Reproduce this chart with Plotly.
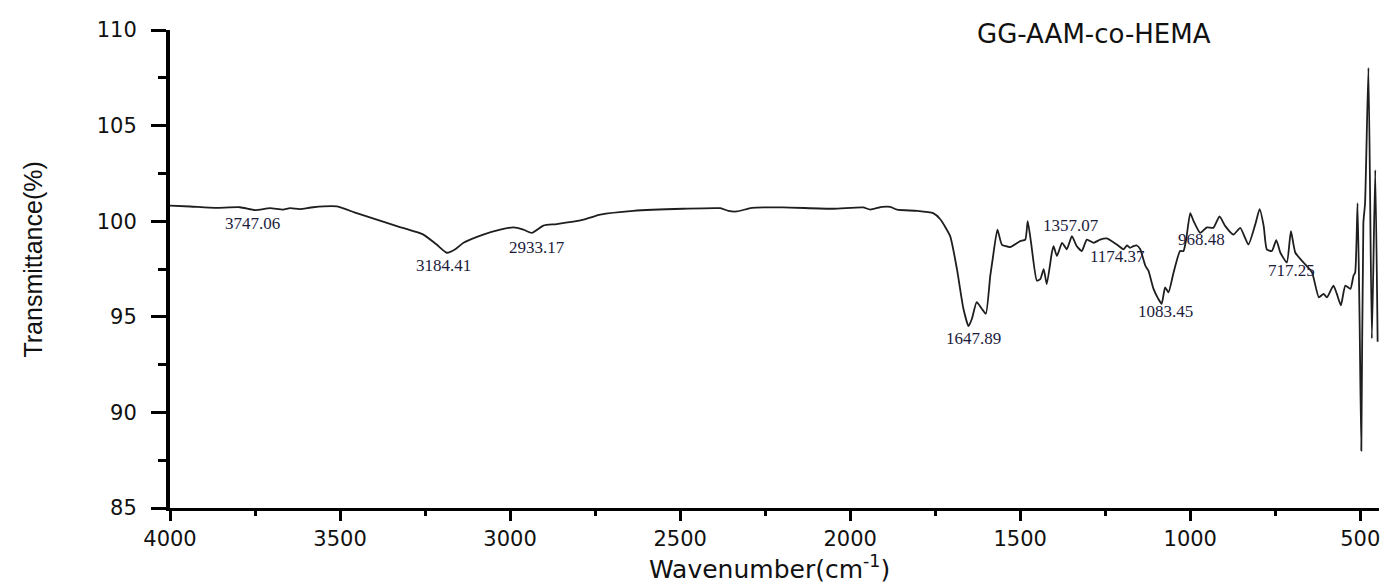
import plotly.graph_objects as go

# FTIR spectrum of GG-AAM-co-HEMA
wavenumber = [4000, 3941, 3868, 3794, 3750, 3706, 3668, 3647, 3618, 3579, 3509, 3451, 3392, 3333,
              3255, 3216, 3186, 3160, 3137, 3079, 3029, 2990, 2961, 2936, 2902, 2863, 2784, 2735,
              2638, 2491, 2382, 2358, 2333, 2289, 2197, 2050, 1962, 1941, 1906, 1882, 1862, 1803,
              1756, 1735, 1706, 1686, 1667, 1652, 1642, 1628, 1613, 1601, 1588, 1581, 1567, 1554,
              1530, 1500, 1485, 1478, 1468, 1451, 1441, 1431, 1422, 1407, 1402, 1392, 1377, 1363,
              1348, 1334, 1319, 1304, 1284, 1265, 1245, 1216, 1196, 1186, 1177, 1167, 1157, 1147,
              1132, 1123, 1108, 1094, 1084, 1074, 1064, 1049, 1030, 1020, 1012, 1000, 990, 971,
              951, 932, 914, 897, 873, 853, 829, 809, 796, 784, 775, 760, 747, 735, 716, 704,
              691, 667, 642, 622, 608, 598, 579, 569, 557, 544, 529, 520, 515, 508, 502, 497,
              491, 486, 476, 466, 456, 449]
transmittance = [100.81, 100.77, 100.70, 100.73, 100.58, 100.68, 100.61, 100.68, 100.63, 100.73, 100.77, 100.42, 100.08, 99.74,
                 99.30, 98.78, 98.35, 98.55, 98.87, 99.30, 99.56, 99.68, 99.56, 99.39, 99.77, 99.85, 100.08, 100.34,
                 100.54, 100.65, 100.68, 100.54, 100.51, 100.70, 100.72, 100.65, 100.72, 100.61, 100.75, 100.75, 100.60, 100.54,
                 100.42, 100.10, 99.22, 97.49, 95.42, 94.51, 94.90, 95.77, 95.42, 95.16, 97.15, 98.01, 99.56, 98.78,
                 98.65, 98.96, 99.04, 100.0, 98.87, 96.89, 96.97, 97.49, 96.71, 98.35, 98.70, 98.18, 98.87, 98.53,
                 99.22, 98.70, 98.44, 99.04, 98.87, 99.04, 99.10, 98.78, 98.53, 98.73, 98.61, 98.70, 98.73, 98.53,
                 97.67, 97.41, 96.46, 95.94, 95.68, 96.54, 96.28, 97.32, 98.44, 98.44, 99.04, 100.42, 100.0, 99.39,
                 99.68, 99.65, 100.25, 99.74, 99.30, 99.65, 98.78, 99.82, 100.63, 99.74, 98.53, 98.44, 99.01, 98.35, 97.84, 99.48,
                 98.35, 97.84, 97.32, 96.02, 96.20, 96.02, 96.63, 96.20, 95.60, 96.63, 96.46, 97.15, 97.32, 100.94, 94.73, 88.0,
                 99.91, 100.94, 108.02, 93.87, 102.67, 93.70]

# Peak labels
peak_labels = ["3747.06", "3184.41", "2933.17", "1647.89", "1357.07", "1174.37", "1083.45", "968.48", "717.25"]
label_x = [3756, 3197, 2921, 1638, 1350, 1215, 1074, 968, 703]
label_y = [99.9, 97.68, 98.61, 93.85, 99.80, 98.15, 95.30, 99.03, 97.42]

x_ticks = [4000, 3500, 3000, 2500, 2000, 1500, 1000, 500]
y_ticks = [85, 90, 95, 100, 105, 110]

fig = go.Figure()
fig.add_trace(go.Scatter(x=wavenumber, y=transmittance, mode="lines",
                         line=dict(color="#1e1e1e", width=1.8, shape="spline", smoothing=0.5),
                         showlegend=False, hoverinfo="x+y"))

for t, xx, yy in zip(peak_labels, label_x, label_y):
    fig.add_annotation(x=xx, y=yy, text=t, showarrow=False, xanchor="center", yanchor="middle",
                       font=dict(family="Liberation Serif", size=17, color="#1c1c3c"))

fig.add_annotation(xref="paper", yref="paper", x=0.7645, y=0.9917, text="GG-AAM-co-HEMA",
                   xanchor="center", yanchor="middle", showarrow=False,
                   font=dict(family="DejaVu Sans", size=26, color="#111111"))
fig.add_annotation(xref="paper", yref="paper", x=-0.1132, y=0.52, text="Transmittance(%)",
                   textangle=-90, xanchor="center", yanchor="middle", showarrow=False,
                   font=dict(family="Liberation Sans", size=25, color="#111111"))
fig.add_annotation(xref="paper", yref="paper", x=0.4959, y=-0.124,
                   text="Wavenumber(cm<sup>-1</sup>)", xanchor="center", yanchor="middle",
                   showarrow=False,
                   font=dict(family="DejaVu Sans", size=25, color="#111111"))

fig.update_xaxes(range=[4000, 445], tickvals=x_ticks, ticktext=[str(v) for v in x_ticks],
                 showgrid=False, zeroline=False, showline=True, linecolor="black", linewidth=3,
                 ticks="outside", ticklen=10, tickwidth=3, tickcolor="black",
                 tickfont=dict(family="DejaVu Sans", size=21, color="#111111"),
                 minor=dict(dtick=250, tick0=500, ticks="outside", ticklen=5, tickwidth=3,
                            tickcolor="black", showgrid=False))
fig.update_yaxes(range=[85, 110], tickvals=y_ticks, ticktext=[str(v) for v in y_ticks],
                 showgrid=False, zeroline=False, showline=True, linecolor="black", linewidth=4,
                 ticks="outside", ticklen=15, tickwidth=3, tickcolor="black",
                 ticklabelstandoff=10,
                 tickfont=dict(family="DejaVu Sans", size=21, color="#111111"),
                 minor=dict(dtick=2.5, tick0=85, ticks="outside", ticklen=8, tickwidth=3,
                            tickcolor="black", showgrid=False))

# page body adds an 8 px offset; margins compensate so the plot area sits at x 170-1380, y 25-508
fig.update_layout(width=1382, height=576, margin=dict(l=162, r=10, t=17, b=76),
                  plot_bgcolor="white", paper_bgcolor="white")

fig.write_html("out.html")
